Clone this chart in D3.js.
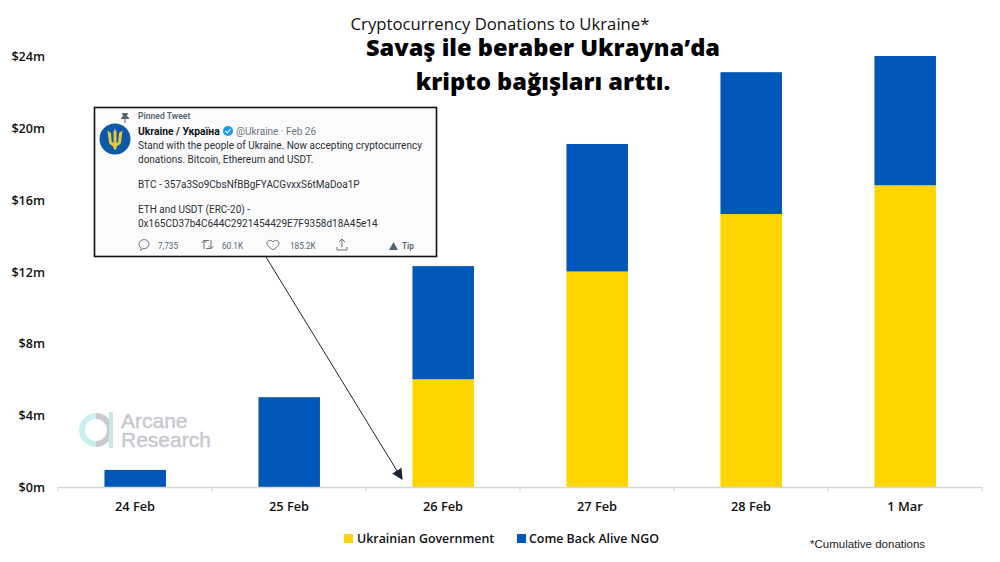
<!DOCTYPE html>
<html><head><meta charset="utf-8">
<script src="https://cdnjs.cloudflare.com/ajax/libs/d3/7.8.5/d3.min.js"></script>
<style>html,body{margin:0;padding:0;background:#fff}svg{display:block}text{font-family:"Open Sans",sans-serif}</style>
</head><body><svg id="c" width="1000" height="562"></svg>
<script>
const categories=["24 Feb","25 Feb","26 Feb","27 Feb","28 Feb","1 Mar"];
const government=[0,0,6.0,12.0,15.2,16.8];
const ngo=[0.95,5.0,6.3,7.1,7.9,7.2];
const yTicks=[0,4,8,12,16,20,24];
const seriesNames=["Ukrainian Government","Come Back Alive NGO"];
const seriesColors=["#FFD500","#0057B8"];
const tweetLines=[
 ["Stand with the people of Ukraine. Now accepting cryptocurrency",149],
 ["donations. Bitcoin, Ethereum and USDT.",162.5],
 ["BTC - 357a3So9CbsNfBBgFYACGvxxS6tMaDoa1P",188],
 ["ETH and USDT (ERC-20) -",213],
 ["0x165CD37b4C644C2921454429E7F9358d18A45e14",227]];
const tweetStats=[["7,735",158],["60.1K",222],["185.2K",290]];

const svg=d3.select("#c");
const x=d3.scaleBand().domain(categories).range([58,982]).paddingInner(0).paddingOuter(0);
const y=d3.scaleLinear().domain([0,24]).range([487,56]);
const bw=61.5;
const stack=categories.map((c,i)=>({c,g:government[i],n:ngo[i]}));
const bar=svg.append("g");
bar.selectAll(".g").data(stack).join("rect")
 .attr("x",d=>x(d.c)+x.bandwidth()/2-bw/2+.2).attr("width",bw)
 .attr("y",d=>y(d.g)).attr("height",d=>y(0)-y(d.g)).attr("fill",seriesColors[0]);
bar.selectAll(".n").data(stack).join("rect")
 .attr("x",d=>x(d.c)+x.bandwidth()/2-bw/2+.2).attr("width",bw)
 .attr("y",d=>y(d.g+d.n)).attr("height",d=>y(d.g)-y(d.g+d.n)).attr("fill",seriesColors[1]);

// axes
const ax=svg.append("g");
ax.append("line").attr("x1",58).attr("x2",982).attr("y1",487.5).attr("y2",487.5).attr("stroke","#d4d6d9").attr("stroke-width",1.3);
ax.selectAll(".t").data(categories.concat(["end"])).join("line")
 .attr("x1",(d,i)=>58+i*x.step()).attr("x2",(d,i)=>58+i*x.step()).attr("y1",487).attr("y2",492).attr("stroke","#d4d6d9");
svg.append("g").selectAll("text").data(categories).join("text")
 .attr("x",d=>x(d)+x.bandwidth()/2).attr("y",511).attr("text-anchor","middle")
 .attr("font-size",12.8).attr("font-weight",600).attr("fill","#111").text(d=>d);
svg.append("g").selectAll("text").data(yTicks).join("text")
 .attr("x",45).attr("y",d=>y(d)+5).attr("text-anchor","end")
 .attr("font-size",12.6).attr("font-weight",600).attr("fill","#111").text(d=>`$${d}m`);

// titles
svg.append("text").attr("x",500).attr("y",30).attr("text-anchor","middle").attr("font-size",16.7).attr("fill","#111").text("Cryptocurrency Donations to Ukraine*");
svg.append("text").attr("x",543).attr("y",56).attr("text-anchor","middle").attr("font-size",23.6).attr("font-weight",800).attr("fill","#000").text("Savaş ile beraber Ukrayna’da");
svg.append("text").attr("x",543).attr("y",90).attr("text-anchor","middle").attr("font-size",23.6).attr("font-weight",800).attr("fill","#000").text("kripto bağışları arttı.");

// legend
const lx=[344,517], ltx=[357,529];
seriesNames.forEach((s,i)=>{
 svg.append("rect").attr("x",lx[i]).attr("y",534).attr("width",9).attr("height",9).attr("fill",seriesColors[i]);
 svg.append("text").attr("x",ltx[i]).attr("y",543).attr("font-size",12.4).attr("font-weight",600).attr("fill","#111").text(s);
});
svg.append("text").attr("x",810).attr("y",548).style("font-family","Liberation Sans").attr("font-size",11.5).attr("fill","#222").text("*Cumulative donations");

// watermark
const wm=svg.append("g");
wm.append("path").attr("d",d3.arc()({innerRadius:11,outerRadius:17,startAngle:Math.PI,endAngle:2*Math.PI})).attr("transform","translate(96,430)").attr("fill","#c8f0ee");
wm.append("path").attr("d",d3.arc()({innerRadius:11,outerRadius:17,startAngle:0,endAngle:Math.PI})).attr("transform","translate(96,430)").attr("fill","#c9cbd0");
wm.append("rect").attr("x",109).attr("y",412).attr("width",4).attr("height",36).attr("fill","#c8e6e6");
wm.selectAll("text").data([["Arcane",428],["Research",447]]).join("text")
 .attr("x",121).attr("y",d=>d[1]).attr("font-size",21).attr("fill","#c6c8ce").attr("stroke","#c6c8ce").attr("stroke-width",.4)
 .style("font-family","Liberation Sans").text(d=>d[0]);

// arrow
svg.append("defs").append("marker").attr("id","ah").attr("viewBox","0 0 10 10").attr("refX",9).attr("refY",5)
 .attr("markerWidth",11).attr("markerHeight",11).attr("markerUnits","userSpaceOnUse").attr("orient","auto")
 .append("path").attr("d","M0,0L10,5L0,10Z").attr("fill","#1a2433");
svg.append("line").attr("x1",266).attr("y1",257).attr("x2",402).attr("y2",479).attr("stroke","#1a2433").attr("stroke-width",1).attr("marker-end","url(#ah)");

// tweet card
const t=svg.append("g");
t.append("rect").attr("x",94.5).attr("y",107.5).attr("width",342).attr("height",149).attr("fill","#fbfbfb").attr("stroke","#111").attr("stroke-width",1.6);
const tt=(s,xx,yy,sz,col,w)=>t.append("text").attr("x",xx).attr("y",yy).attr("font-size",sz).attr("fill",col).attr("font-weight",w||400).style("font-family","Roboto").text(s);
t.append("path").attr("d","M122,113h6l-1,3l2,2v1h-3.5v4h-1v-4h-3.5v-1l2,-2z").attr("fill","#536471");
tt("Pinned Tweet",138,119,8.6,"#536471",600);
t.append("circle").attr("cx",115).attr("cy",139).attr("r",15.5).attr("fill","#0f5aa8");
t.append("path").attr("d","M107.5,130.5l1.5,12q.5,2 3,3q1.5,.5 2,4h2q.5,-3.5 2,-4q2.5,-1 3,-3l1.5,-12l-3.5,2.5l-.8,9l-1.7,1v-11l-1.5,-3.5l-1.5,3.5v11l-1.7,-1l-.8,-9z").attr("fill","#e6c93a");
tt("Ukraine / Україна",138,135,10.3,"#0f1419",700);
t.append("circle").attr("cx",228).attr("cy",131).attr("r",5).attr("fill","#1d9bf0");
t.append("path").attr("d","M225.5,131l2,2l3,-4").attr("fill","none").attr("stroke","#fff").attr("stroke-width",1.1);
tt("@Ukraine · Feb 26",236,135,10,"#6b7680");
tweetLines.forEach(([s,yy])=>tt(s,138,yy,10,"#2a3036"));
tweetStats.forEach(([s,xx])=>tt(s,xx,249,8.2,"#536471"));
const ic=(d)=>t.append("path").attr("d",d).attr("fill","none").attr("stroke","#536471").attr("stroke-width",.9);
ic("M139,244a5,4.5 0 1 1 4,4.5l-2,2v-2.5a5,4.5 0 0 1 -2,-4z");
ic("M204,249v-8.5M201.5,243l2.5,-2.5l2.5,2.5M204,240.5h5M211,240v8.5M208.5,246l2.5,2.5l2.5,-2.5M211,248.5h-5");
ic("M273,242c-2,-3 -6,-1.5 -6,1.2c0,3 4,5 6,6.8c2,-1.8 6,-3.8 6,-6.8c0,-2.7 -4,-4.2 -6,-1.2z");
ic("M342,247v-8m-3,3l3,-3l3,3M337,247v3h10v-3");
t.append("path").attr("d","M389,250l4.5,-8l4.5,8z").attr("fill","#536471");
tt("Tip",402,249,8.2,"#536471",600);
</script></body></html>
